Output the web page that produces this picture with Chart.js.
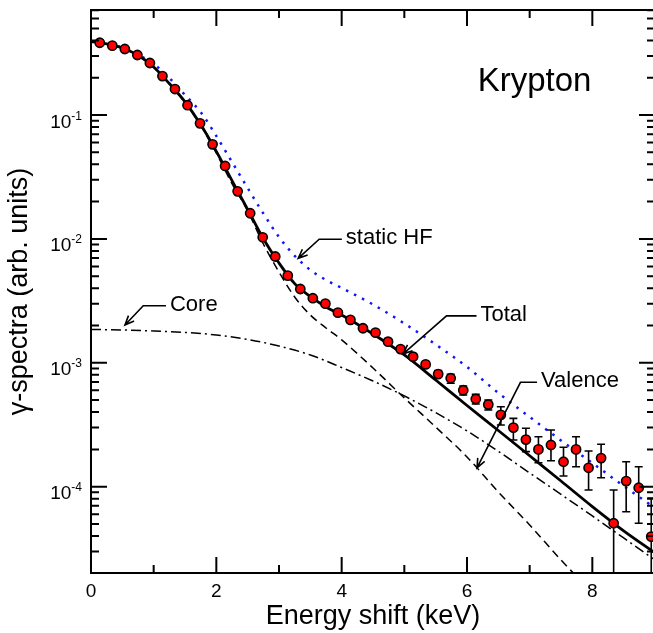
<!DOCTYPE html>
<html>
<head>
<meta charset="utf-8">
<script src="https://cdn.jsdelivr.net/npm/chart.js@4/dist/chart.umd.min.js"></script>
<style>
html, body { margin: 0; padding: 0; overflow: hidden; background: #fff; }
#wrap { position: absolute; left: 0; top: 0; width: 662px; height: 633px; }
</style>
</head>
<body>
<div id="wrap"><canvas id="chart" width="662" height="633"></canvas></div>
<script>
'use strict'

// measured spectrum (keV, arb. units)
const measE = [0.14, 0.34, 0.54, 0.74, 0.94, 1.14, 1.34, 1.54, 1.74, 1.94,
  2.14, 2.34, 2.54, 2.74, 2.94, 3.14, 3.34, 3.54, 3.74, 3.94,
  4.14, 4.34, 4.54, 4.74, 4.94, 5.14, 5.34, 5.54, 5.74, 5.94,
  6.14, 6.34, 6.54, 6.74, 6.94, 7.14, 7.34, 7.54, 7.74, 7.94,
  8.14, 8.34, 8.54, 8.74, 8.94];
const measY = [0.383, 0.363, 0.341, 0.305, 0.263, 0.206, 0.162, 0.120, 0.0857, 0.058,
  0.0388, 0.0242, 0.0161, 0.0103, 0.00721, 0.00505, 0.00394, 0.00332, 0.0030, 0.00254,
  0.00222, 0.0019, 0.00175, 0.00148, 0.00129, 0.00112, 0.00097, 0.00081, 0.00075, 0.0006,
  0.00051, 0.00046, 0.00038, 0.0003, 0.00024, 0.0002, 0.000217, 0.000159, 0.0002, 0.000142,
  0.00017, 0.0000507, 0.000111, 0.000098, 0.0000395];
const errHigh = [null, null, null, null, null, null, null, null, null, null,
  null, null, null, null, null, null, null, null, null, null,
  null, null, null, null, null, null, null, 0.000864, 0.000807, 0.00065,
  0.000557, 0.000501, 0.000442, 0.000356, 0.000296, 0.000253, 0.000287, 0.000208, 0.000253, 0.000194,
  0.00022, 0.000094, 0.000159, 0.000145, 0.000081];
const errLow = [null, null, null, null, null, null, null, null, null, null,
  null, null, null, null, null, null, null, null, null, null,
  null, null, null, null, null, null, null, 0.000764, 0.000683, 0.00055,
  0.000465, 0.000416, 0.000315, 0.000238, 0.000192, 0.000156, 0.000162, 0.000122, 0.000145, 0.000094,
  0.000118, 0.000001, 0.0000628, 0.0000507, 0.000001];

// theory curves
const totalE = [0, 0.25, 0.5, 0.75, 1, 1.25, 1.5, 1.75, 2, 2.25, 2.5, 2.75, 3, 3.25, 3.5, 3.75, 4,
  4.5, 5, 5.5, 6, 6.5, 7, 7.5, 8, 8.5, 9];
const totalY = [0.392, 0.375, 0.3475, 0.3033, 0.244, 0.1795, 0.1278, 0.0838, 0.0509, 0.02954,
  0.01727, 0.01004, 0.00639, 0.004357, 0.00343, 0.00282, 0.00243,
  0.001708, 0.001156, 0.000726, 0.000452, 0.000284, 0.0001776, 0.0001111, 0.0000691, 0.000044, 0.0000292];

const valenceE = [0, 0.25, 0.5, 0.75, 1, 1.25, 1.5, 1.75, 2, 2.25, 2.5, 2.75, 3, 3.25, 3.5, 3.75, 4,
  4.5, 5, 5.5, 6, 6.5, 7, 7.5, 8];
const valenceY = [0.39, 0.373, 0.3457, 0.3015, 0.2422, 0.1777, 0.1261, 0.0821, 0.0492, 0.0279,
  0.0168, 0.0091, 0.0054, 0.0034, 0.00243, 0.00191, 0.00153,
  0.000908, 0.00052, 0.000303, 0.0001737, 0.0000906, 0.0000491, 0.0000256, 0.0000139];

const coreE = [0, 0.5, 1, 1.5, 2, 2.5, 3, 3.5, 4, 4.5, 5, 5.5, 6, 6.5, 7, 7.5, 8, 8.5, 9];
const coreY = [0.001857, 0.00184, 0.001806, 0.001757, 0.001677, 0.001542, 0.001366, 0.001156, 0.000915,
  0.000713, 0.00054, 0.000396, 0.000282, 0.000193, 0.000129, 0.0000867, 0.000058, 0.00003855, 0.0000256];

const hfE = [0, 0.5, 1, 1.25, 1.5, 1.75, 2, 2.25, 2.5, 2.75, 3, 3.25, 3.5, 3.75, 4,
  4.5, 5, 5.5, 6, 6.5, 7, 7.5, 8, 8.5, 9];
const hfY = [0.392, 0.35, 0.258, 0.199, 0.145, 0.1057, 0.0677, 0.04176, 0.02575, 0.01603,
  0.01036, 0.0073, 0.00561, 0.00466, 0.004017,
  0.002954, 0.002076, 0.001405, 0.000925, 0.000571, 0.000365, 0.000236, 0.0001553, 0.0001013, 0.0000673];

// axis ticks
const xMajor = [0, 2, 4, 6, 8];
const xMinor = [1, 3, 5, 7];
const yDecades = [-1, -2, -3, -4];

// labels with arrows, in data coordinates
const notes = [
  { text: 'static HF', tip: [3.306, 0.00697], elbow: [3.641, 0.00993], end: [4.003, 0.00993] },
  { text: 'Core', tip: [0.542, 0.00202], elbow: [0.834, 0.00289], end: [1.196, 0.00289] },
  { text: 'Total', tip: [4.981, 0.00118], elbow: [5.673, 0.00239], end: [6.152, 0.00239] },
  { text: 'Valence', tip: [6.16, 0.000142], elbow: [6.853, 0.000696], end: [7.118, 0.000696] }
];
const elementName = { text: 'Krypton', at: [6.17, 0.157] };

const family = '"Liberation Sans", Arial, Helvetica, sans-serif';

function pairs(xs, ys) {
  return xs.map((x, i) => ({ x: x, y: ys[i] }));
}

const decor = {
  id: 'decor',
  beforeDatasetDraw(chart, args) {
    if (args.index !== 0) return;
    const { ctx, chartArea: a, scales: { x, y } } = chart;
    ctx.save();
    ctx.beginPath();
    ctx.rect(a.left, a.top, a.right - a.left, a.bottom - a.top);
    ctx.clip();
    ctx.strokeStyle = '#000';
    ctx.lineWidth = 1.6;
    measE.forEach((e, i) => {
      if (errHigh[i] == null) return;
      const px = x.getPixelForValue(e);
      const top = y.getPixelForValue(errHigh[i]);
      const bot = y.getPixelForValue(errLow[i]);
      ctx.beginPath();
      ctx.moveTo(px, top);
      ctx.lineTo(px, bot);
      ctx.moveTo(px - 4, top);
      ctx.lineTo(px + 4, top);
      if (bot < a.bottom) {
        ctx.moveTo(px - 4, bot);
        ctx.lineTo(px + 4, bot);
      }
      ctx.stroke();
    });
    ctx.restore();
  },
  afterDraw(chart) {
    const { ctx, chartArea: a, scales: { x, y } } = chart;
    ctx.save();
    ctx.strokeStyle = '#000';
    ctx.fillStyle = '#000';
    ctx.lineWidth = 2;
    ctx.strokeRect(a.left, a.top, a.right - a.left, a.bottom - a.top);

    // x ticks, top and bottom, pointing inward
    const xt = xMajor.map(v => [v, 16]).concat(xMinor.map(v => [v, 8]));
    ctx.beginPath();
    xt.forEach(([v, len]) => {
      const px = x.getPixelForValue(v);
      ctx.moveTo(px, a.bottom); ctx.lineTo(px, a.bottom - len);
      ctx.moveTo(px, a.top); ctx.lineTo(px, a.top + len);
    });
    // y ticks, left and right
    for (let p = -5; p <= 0; p++) {
      for (let m = 1; m <= 9; m++) {
        const v = m * Math.pow(10, p);
        if (v < y.min || v > y.max) continue;
        const py = y.getPixelForValue(v);
        const len = m === 1 ? 16 : 8;
        ctx.moveTo(a.left, py); ctx.lineTo(a.left + len, py);
        ctx.moveTo(a.right, py); ctx.lineTo(a.right - len, py);
      }
    }
    ctx.stroke();

    // tick labels
    ctx.font = '19px ' + family;
    ctx.textAlign = 'center';
    ctx.textBaseline = 'middle';
    xMajor.forEach(v => ctx.fillText(String(v), x.getPixelForValue(v), a.bottom + 19));

    yDecades.forEach(d => {
      const py = y.getPixelForValue(Math.pow(10, d));
      const sup = String(d);
      ctx.font = '12px ' + family;
      const sw = ctx.measureText(sup).width;
      const right = a.left - 9;
      ctx.textAlign = 'left';
      ctx.textBaseline = 'alphabetic';
      ctx.fillText(sup, right - sw, py + 4.5);
      ctx.font = '19px ' + family;
      ctx.textAlign = 'right';
      ctx.fillText('10', right - sw, py + 12.5);
    });

    // annotations
    ctx.lineWidth = 1.6;
    ctx.font = '22px ' + family;
    ctx.textAlign = 'left';
    ctx.textBaseline = 'middle';
    notes.forEach(n => {
      const tx = x.getPixelForValue(n.tip[0]), ty = y.getPixelForValue(n.tip[1]);
      const ex = x.getPixelForValue(n.elbow[0]), ey = y.getPixelForValue(n.elbow[1]);
      const nx = x.getPixelForValue(n.end[0]), ny = y.getPixelForValue(n.end[1]);
      ctx.beginPath();
      ctx.moveTo(nx, ny); ctx.lineTo(ex, ey); ctx.lineTo(tx, ty);
      const ang = Math.atan2(ty - ey, tx - ex);
      const head = 10, spread = 0.4;
      ctx.moveTo(tx - head * Math.cos(ang - spread), ty - head * Math.sin(ang - spread));
      ctx.lineTo(tx, ty);
      ctx.lineTo(tx - head * Math.cos(ang + spread), ty - head * Math.sin(ang + spread));
      ctx.stroke();
      ctx.fillText(n.text, nx + 4, ny - 1);
    });

    ctx.font = '33px ' + family;
    ctx.textBaseline = 'alphabetic';
    ctx.fillText(elementName.text, x.getPixelForValue(elementName.at[0]), y.getPixelForValue(elementName.at[1]));
    ctx.restore();
  }
};

const ctx = document.getElementById('chart').getContext('2d');
new Chart(ctx, {
  type: 'line',
  data: {
    datasets: [
      {
        label: 'Experiment',
        data: pairs(measE, measY),
        showLine: false,
        borderColor: '#000',
        pointRadius: 4.6,
        pointBackgroundColor: '#ff0000',
        pointBorderColor: '#000',
        pointBorderWidth: 1.6
      },
      {
        label: 'Total',
        data: pairs(totalE, totalY),
        borderColor: '#000',
        borderWidth: 2.8,
        pointRadius: 0,
        cubicInterpolationMode: 'monotone'
      },
      {
        label: 'Valence',
        data: pairs(valenceE, valenceY),
        borderColor: '#000',
        borderWidth: 1.5,
        borderDash: [8, 5],
        pointRadius: 0,
        cubicInterpolationMode: 'monotone'
      },
      {
        label: 'Core',
        data: pairs(coreE, coreY),
        borderColor: '#000',
        borderWidth: 1.5,
        borderDash: [10, 4, 2, 4],
        pointRadius: 0,
        cubicInterpolationMode: 'monotone'
      },
      {
        label: 'static HF',
        data: pairs(hfE, hfY),
        borderColor: '#1414ff',
        borderWidth: 2.5,
        borderDash: [2.5, 6.5],
        pointRadius: 0,
        cubicInterpolationMode: 'monotone'
      }
    ]
  },
  options: {
    responsive: false,
    animation: false,
    devicePixelRatio: 1,
    layout: { padding: { top: 10, right: 7, left: 0, bottom: 0 } },
    plugins: { legend: { display: false }, tooltip: { enabled: false } },
    scales: {
      x: {
        type: 'linear',
        min: 0,
        max: 9,
        grid: { display: false },
        border: { display: false },
        ticks: { display: false },
        title: { display: true, text: 'Energy shift (keV)', color: '#000', font: { family: family, size: 27 }, padding: { top: 0, bottom: 0 } },
        afterFit(scale) { scale.height = 60; }
      },
      y: {
        type: 'logarithmic',
        min: 2.01e-5,
        max: 0.704,
        grid: { display: false },
        border: { display: false },
        ticks: { display: false },
        title: { display: true, text: 'γ-spectra (arb. units)', color: '#000', font: { family: family, size: 27 }, padding: { top: 3, bottom: 0 } },
        afterFit(scale) { scale.width = 91; }
      }
    }
  },
  plugins: [decor]
});
</script>
</body>
</html>
